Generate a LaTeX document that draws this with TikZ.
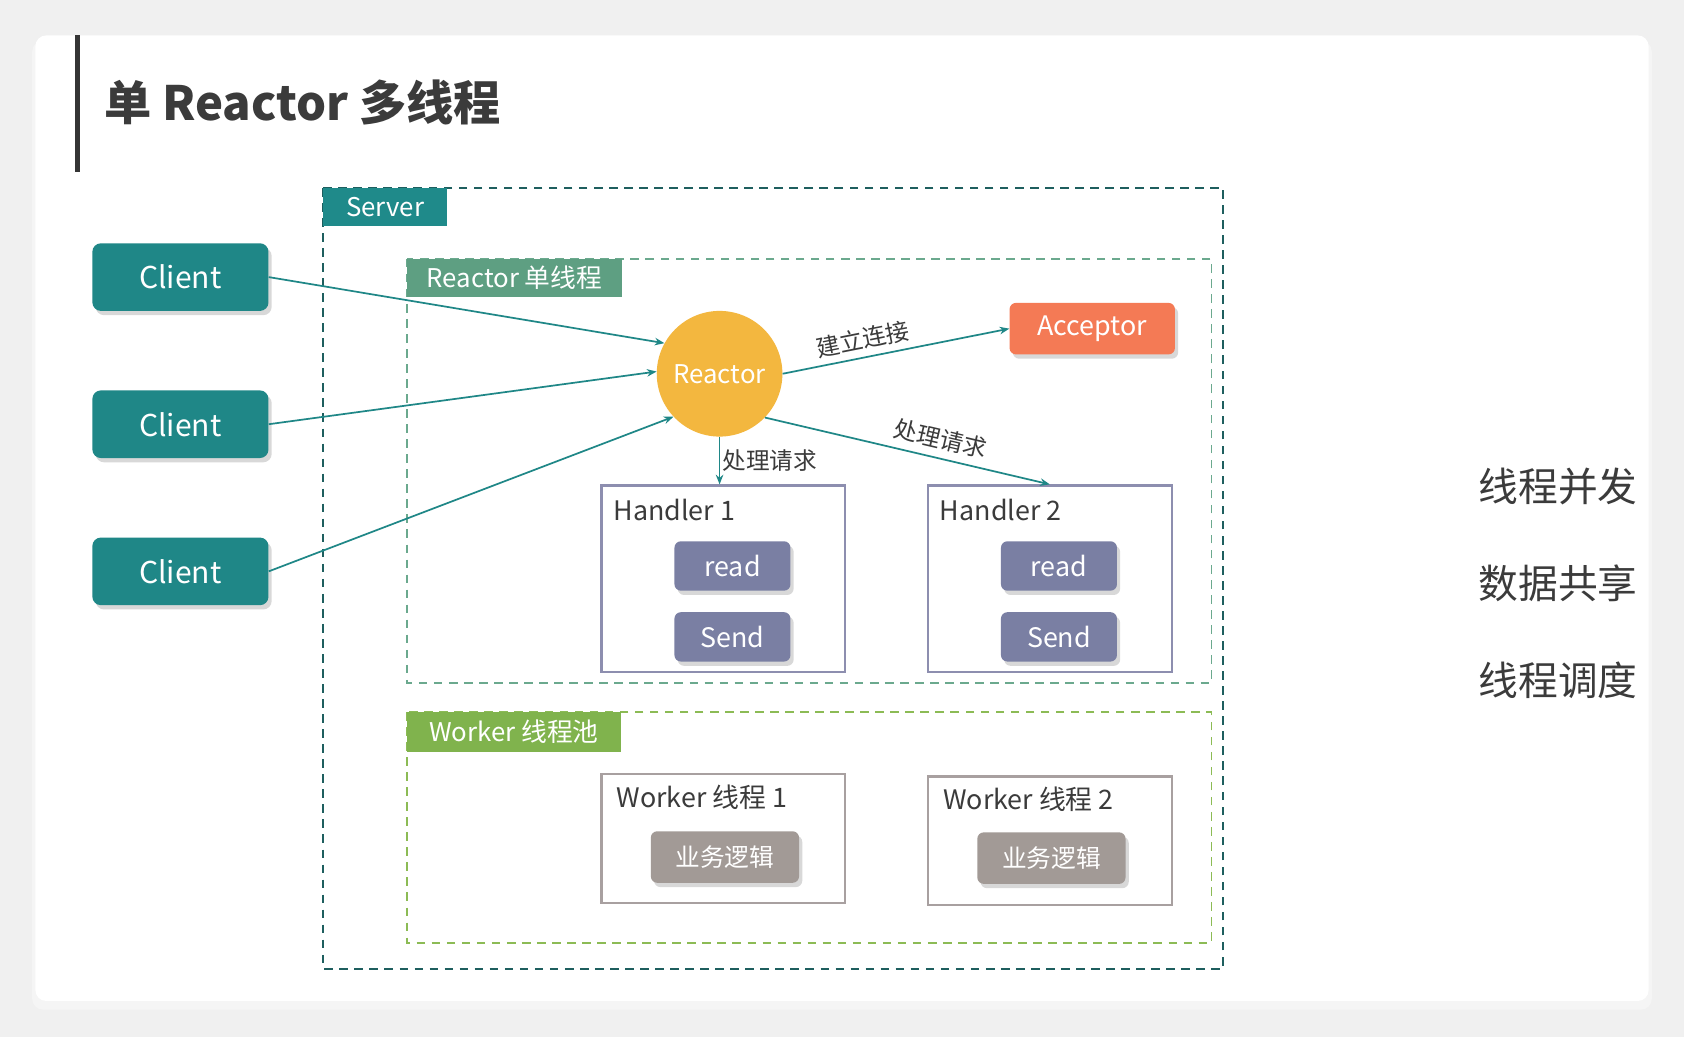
\documentclass[tikz,border=0pt]{standalone}
\usepackage{fontspec}
\setmainfont{Noto Sans CJK SC}
\usetikzlibrary{arrows.meta,shadows,positioning}

\definecolor{clientc}{HTML}{1F8787}
\definecolor{serverc}{HTML}{1E5E5E}
\definecolor{servertag}{HTML}{1F8A8A}
\definecolor{reactortag}{HTML}{5E9F82}
\definecolor{reactorline}{HTML}{6BA98E}
\definecolor{workertag}{HTML}{80B34D}
\definecolor{workerline}{HTML}{8CBB55}
\definecolor{reactorc}{HTML}{F3B73F}
\definecolor{acceptorc}{HTML}{F47A55}
\definecolor{btnc}{HTML}{7A7FA3}
\definecolor{handlerline}{HTML}{8D8EAF}
\definecolor{workerbox}{HTML}{A8A0A0}
\definecolor{logicc}{HTML}{A29A96}
\definecolor{txt}{HTML}{3B3B3B}

\newcommand{\fs}[1]{\fontsize{#1}{#1}\selectfont}

\begin{document}
\begin{tikzpicture}[x=1pt,y=-1pt,
  shade/.style={drop shadow={opacity=.3,shadow xshift=3pt,shadow yshift=-4pt}},
  client/.style={shade,fill=clientc,rounded corners=8pt,minimum width=164pt,minimum height=63pt,text=white,font=\fs{28}},
  btn/.style={shade,fill=btnc,rounded corners=6pt,minimum width=108pt,minimum height=46pt,text=white,font=\fs{25}},
  logic/.style={shade,fill=logicc,rounded corners=6pt,minimum width=138pt,minimum height=48pt,text=white,font=\fs{23}},
  tag/.style={anchor=north west,text=white,inner sep=0pt,font=\fs{24}},
  holder/.style={draw=#1,line width=2pt,fill=white,minimum width=227pt,minimum height=174pt},
  boxlabel/.style={anchor=west,inner sep=0pt,text=txt,font=\fs{25}},
  link/.style={draw=clientc,line width=1.6pt,-{Stealth[length=9pt,width=7pt]}},
  edgelabel/.style={text=txt,font=\fs{22},inner sep=2pt},
  side/.style={anchor=east,inner sep=0pt,text=txt,font=\fs{37}}]

	%background and card
	\useasboundingbox (0,0) rectangle (1568,966);
	\fill[black!6] (0,0) rectangle (1568,966);
	\fill[black!4,rounded corners=10pt] (30,38) rectangle (1538,940);
	\fill[white,rounded corners=10pt] (33,33) rectangle (1535,932);
	\draw[txt!90!black,line width=5pt] (72,33) -- (72,160); %title bar

	%title
	\node[anchor=west,inner sep=0pt,text=txt,font=\fs{44}\bfseries] (title) at (97,95) {单 Reactor 多线程};

	%server
	\draw[serverc,line width=2pt,dash pattern=on 8pt off 6pt] (301,175) rectangle (1139,902);
	\fill[servertag] (301,175) rectangle (416,210);
	\node[tag,anchor=center] (servertxt) at (358.5,192.5) {Server};

	%reactor thread
	\draw[reactorline,line width=1.6pt,dash pattern=on 8pt off 6pt] (379,241) rectangle (1128,636);
	\fill[reactortag] (379,241) rectangle (579,277);
	\node[tag,anchor=center] (reactortxt) at (479,259) {Reactor 单线程};

	%worker pool
	\draw[workerline,line width=1.6pt,dash pattern=on 8pt off 6pt] (379,663) rectangle (1128,878);
	\fill[workertag] (379,663) rectangle (578,700);
	\node[tag,anchor=center] (workertxt) at (478.5,681.5) {Worker 线程池};

	%clients
	\node[client] (c1) at (168,258) {Client};
	\node[client] (c2) at (168,395) {Client};
	\node[client] (c3) at (168,532) {Client};

	%reactor and acceptor
	\node[circle,fill=reactorc,minimum size=117pt,inner sep=0pt,text=white,font=\fs{24}] (reactor) at (670,348) {Reactor};
	\node[shade,fill=acceptorc,rounded corners=6pt,minimum width=154pt,minimum height=48pt,text=white,font=\fs{25}] (acceptor) at (1017,306) {Acceptor};

	%handlers
	\node[holder=handlerline] (h1) at (673.5,539) {};
	\node[holder=handlerline] (h2) at (977.5,539) {};
	\node[boxlabel] (h1lab) at (571,475) {Handler 1};
	\node[boxlabel] (h2lab) at (875,475) {Handler 2};
	\node[btn] (read1) at (682,527) {read};
	\node[btn] (send1) at (682,593) {Send};
	\node[btn] (read2) at (986,527) {read};
	\node[btn] (send2) at (986,593) {Send};

	%workers
	\node[holder=workerbox,minimum height=120pt] (w1) at (673.5,781) {};
	\node[holder=workerbox,minimum height=120pt] (w2) at (977.5,783) {};
	\node[boxlabel] (w1lab) at (574,742) {Worker 线程 1};
	\node[boxlabel] (w2lab) at (878,744) {Worker 线程 2};
	\node[logic] (logic1) at (675,798) {业务逻辑};
	\node[logic] (logic2) at (979,799) {业务逻辑};

	%arrows
	\draw[link] (c1.east) -- (reactor.151);
	\draw[link] (c2.east) -- (reactor.178);
	\draw[link] (c3.east) -- (reactor.223);
	\draw[link] (reactor.east) -- node[pos=0.37,above,sloped,edgelabel,inner sep=6pt] {建立连接} (acceptor.west);
	\draw[link] (reactor.south) -- node[pos=0.5,right,edgelabel] {处理请求} (reactor.south |- h1.north);
	\draw[link] (reactor.-44) -- node[pos=0.6,above,sloped,edgelabel,inner sep=7pt] {处理请求} (h2.north);

	%side notes
	\node[side] (n1) at (1525,453) {线程并发};
	\node[side] (n2) at (1525,543) {数据共享};
	\node[side] (n3) at (1525,633) {线程调度};
\end{tikzpicture}
\end{document}
